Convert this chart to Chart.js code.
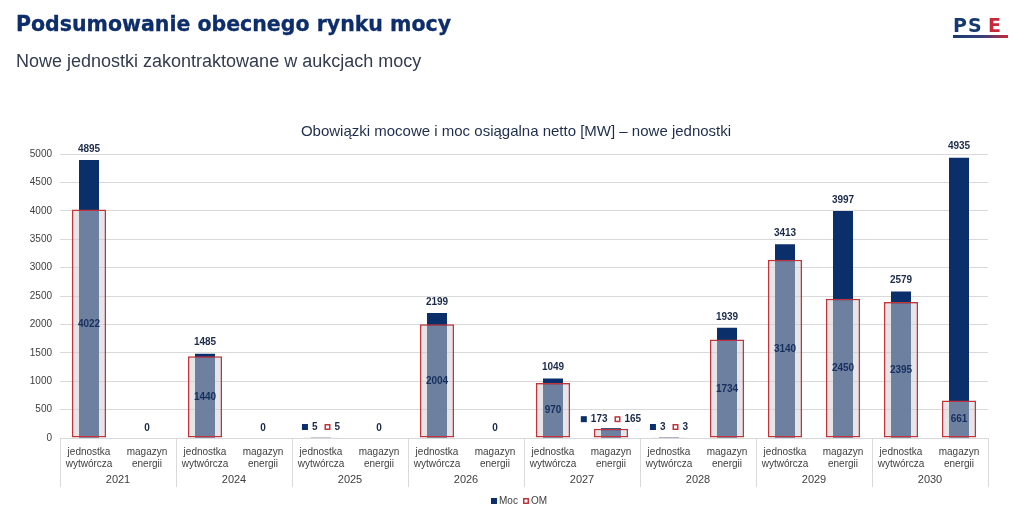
<!DOCTYPE html>
<html>
<head>
<meta charset="utf-8">
<script src="https://cdn.jsdelivr.net/npm/chart.js@4/dist/chart.umd.min.js"></script>
<style>
  html, body { margin: 0; padding: 0; background: #fff; }
  #wrap { position: relative; width: 1024px; height: 522px; overflow: hidden; }
  #naglowek { position: absolute; left: 16px; top: 12px; font: bold 20.5px "DejaVu Sans"; color: #0e2d6b; white-space: nowrap; -webkit-text-stroke: 0.3px #0e2d6b; }
  #podtytul { position: absolute; left: 16px; top: 51px; font: 18px "Liberation Sans"; color: #333c4e; white-space: nowrap; }
  #logo { position: absolute; left: 950px; top: 13px; }
  #wykres { position: absolute; left: 0; top: 0; }
</style>
</head>
<body>
<div id="wrap">
  <canvas id="wykres" width="1024" height="522"></canvas>
  <div id="naglowek">Podsumowanie obecnego rynku mocy</div>
  <div id="podtytul">Nowe jednostki zakontraktowane w aukcjach mocy</div>
  <svg id="logo" width="62" height="28" viewBox="0 0 62 28">
    <defs>
      <linearGradient id="gr" x1="0" x2="1" y1="0" y2="0">
        <stop offset="0" stop-color="#163a70"/>
        <stop offset="0.55" stop-color="#3a3f78"/>
        <stop offset="1" stop-color="#c8283a"/>
      </linearGradient>
    </defs>
    <text x="3" y="19" font-family="DejaVu Sans" font-weight="bold" font-size="19" fill="#163a70" letter-spacing="1">PS</text>
    <text x="38" y="19" font-family="DejaVu Sans" font-weight="bold" font-size="19" fill="#c8283a">E</text>
    <rect x="3" y="22" width="55" height="3" fill="url(#gr)"/>
  </svg>
</div>
<script>
  var lata = ['2021', '2024', '2025', '2026', '2027', '2028', '2029', '2030'];
  var typy = [['jednostka', 'wytwórcza'], ['magazyn', 'energii']];
  var moc = [4895, 0, 1485, 0, 5, 0, 2199, 0, 1049, 173, 3, 1939, 3413, 3997, 2579, 4935];
  var om = [4022, 0, 1440, 0, 5, 0, 2004, 0, 970, 165, 3, 1734, 3140, 2450, 2395, 661];
  var osY = { min: 0, max: 5000, krok: 500 };

  var GRANAT = '#0b2f6b';
  var CZERWONY = '#c0353a';
  var TEKST = '#404040';

  var etykiety = [];
  for (var r = 0; r < lata.length; r++) {
    etykiety.push(typy[0]);
    etykiety.push(typy[1]);
  }

  function kwadrat(ctx, x, y, pelny) {
    if (pelny) {
      ctx.fillStyle = GRANAT;
      ctx.fillRect(x, y - 3, 6, 6);
    } else {
      ctx.fillStyle = '#fff';
      ctx.fillRect(x, y - 3, 6, 6);
      ctx.strokeStyle = CZERWONY;
      ctx.lineWidth = 1.5;
      ctx.strokeRect(x + 0.75, y - 2.25, 4.5, 4.5);
    }
  }

  var dodatki = {
    id: 'dodatki',
    afterDatasetsDraw: function (chart) {
      var ctx = chart.ctx;
      var x = chart.scales.x, y = chart.scales.y;
      var baza = y.getPixelForValue(0);
      ctx.save();
      ctx.font = 'bold 10px "Liberation Sans"';
      ctx.textAlign = 'center';
      ctx.textBaseline = 'middle';
      for (var i = 0; i < moc.length; i++) {
        var cx = x.getPixelForValue(i);
        var m = moc[i], o = om[i];
        if (m === 0 && o === 0) {
          ctx.fillStyle = '#1b2a48';
          ctx.fillText('0', cx, baza - 10);
        } else if (o < 300) {
          var tm = String(m), to = String(o);
          var wm = ctx.measureText(tm).width, wo = ctx.measureText(to).width;
          var cal = 6 + 4 + wm + 7 + 6 + 4 + wo;
          var sx = cx - cal / 2;
          var ty = Math.min(y.getPixelForValue(Math.max(m, o)) - 9, baza - 11);
          kwadrat(ctx, sx, ty, true);
          ctx.fillStyle = '#1b2a48';
          ctx.textAlign = 'left';
          ctx.fillText(tm, sx + 10, ty);
          kwadrat(ctx, sx + 10 + wm + 7, ty, false);
          ctx.fillStyle = '#1b2a48';
          ctx.fillText(to, sx + 10 + wm + 7 + 10, ty);
          ctx.textAlign = 'center';
        } else {
          ctx.fillStyle = '#1b2a48';
          ctx.fillText(String(m), cx, y.getPixelForValue(m) - 11);
          ctx.fillStyle = '#162f5e';
          ctx.fillText(String(o), cx, (y.getPixelForValue(o) + baza) / 2);
        }
      }
      ctx.restore();
    },
    afterDraw: function (chart) {
      var ctx = chart.ctx;
      var area = chart.chartArea;
      var krokX = (area.right - area.left) / lata.length;
      ctx.save();
      // separatory grup i lata
      ctx.strokeStyle = '#d9d9d9';
      ctx.lineWidth = 1;
      for (var k = 0; k <= lata.length; k++) {
        var sx = Math.round(area.left + k * krokX) + 0.5;
        ctx.beginPath();
        ctx.moveTo(sx, area.bottom);
        ctx.lineTo(sx, area.bottom + 49);
        ctx.stroke();
      }
      ctx.fillStyle = TEKST;
      ctx.font = '11px "Liberation Sans"';
      ctx.textAlign = 'center';
      ctx.textBaseline = 'middle';
      for (var j = 0; j < lata.length; j++) {
        ctx.fillText(lata[j], area.left + (j + 0.5) * krokX, area.bottom + 42);
      }
      // tytul wykresu
      ctx.fillStyle = '#1f2d4a';
      ctx.font = '15px "Liberation Sans"';
      ctx.fillText('Obowiązki mocowe i moc osiągalna netto [MW] – nowe jednostki', 516, 132);
      // legenda
      ctx.font = '10px "Liberation Sans"';
      ctx.textAlign = 'left';
      kwadrat(ctx, 491, 501, true);
      ctx.fillStyle = TEKST;
      ctx.fillText('Moc', 499, 501);
      kwadrat(ctx, 523, 501, false);
      ctx.fillStyle = TEKST;
      ctx.fillText('OM', 531, 501);
      ctx.restore();
    }
  };

  new Chart(document.getElementById('wykres'), {
    type: 'bar',
    data: {
      labels: etykiety,
      datasets: [
        {
          label: 'Moc',
          data: moc,
          backgroundColor: GRANAT,
          borderWidth: 0,
          grouped: false,
          categoryPercentage: 1,
          barPercentage: 0.345,
          order: 2
        },
        {
          label: 'OM',
          data: om,
          backgroundColor: 'rgba(206, 206, 212, 0.51)',
          borderColor: CZERWONY,
          borderWidth: function (c) { return c.raw === 0 ? 0 : 1.5; },
          borderSkipped: false,
          grouped: false,
          categoryPercentage: 1,
          barPercentage: 0.59,
          order: 1
        }
      ]
    },
    options: {
      responsive: false,
      animation: false,
      layout: { padding: { top: 154, left: 0, right: 36, bottom: 35 } },
      plugins: {
        legend: { display: false },
        title: { display: false },
        tooltip: { enabled: false }
      },
      scales: {
        x: {
          grid: { display: false, drawTicks: false },
          border: { display: true, color: '#d9d9d9' },
          ticks: {
            autoSkip: false,
            maxRotation: 0,
            padding: 8,
            color: TEKST,
            font: { family: 'Liberation Sans', size: 10 }
          },
          afterFit: function (s) { s.height = 49; }
        },
        y: {
          min: osY.min,
          max: osY.max,
          grid: { color: '#d9d9d9', drawTicks: false },
          border: { display: false },
          ticks: {
            stepSize: osY.krok,
            padding: 8,
            color: TEKST,
            font: { family: 'Liberation Sans', size: 10 },
            callback: function (v) { return String(v); }
          },
          afterFit: function (s) { s.width = 60; }
        }
      }
    },
    plugins: [dodatki]
  });
</script>
</body>
</html>
